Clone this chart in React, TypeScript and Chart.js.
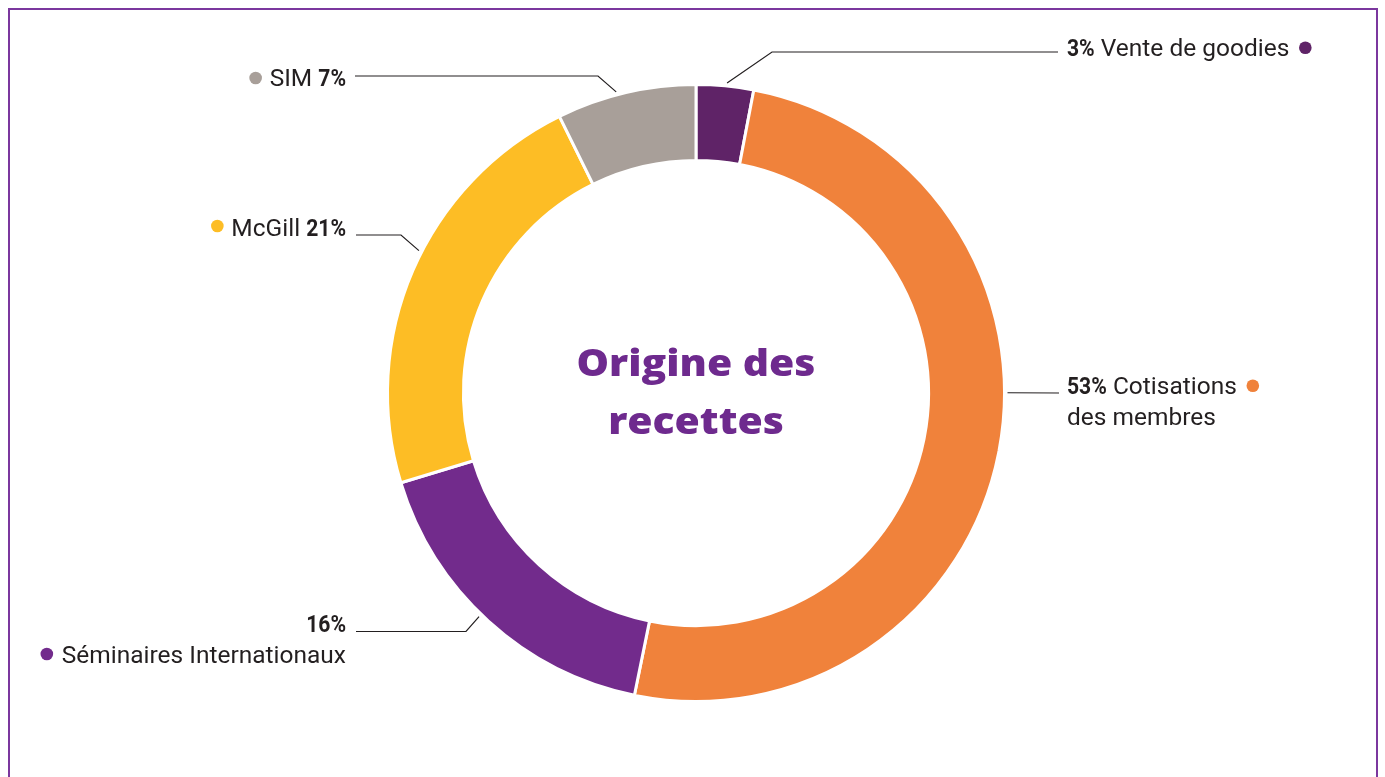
import React, { useEffect, useRef } from "react";
import { Chart, registerables } from "chart.js";

Chart.register(...registerables);

// ---- Data ----
const categories = ["Vente de goodies", "Cotisations des membres", "Séminaires Internationaux", "McGill", "SIM"];
// slice sizes as drawn in the reference (ring share, %)
const shares = [3, 50.2, 17.1, 22.4, 7.3];
// percentages printed on the labels
const percentLabels = ["3%", "53%", "16%", "21%", "7%"];
const sliceColors = ["#5f2367", "#f0823b", "#722b8c", "#fdbd25", "#a89f99"];
const centerTitle = ["Origine des", "recettes"];

// ---- Callout layout (annotation positions, page px) ----
type Run = { t: string; bold?: boolean };
type Line = { x: number; y: number; align: "left" | "right"; runs: Run[]; dot?: "before" | "after"; dotGap?: number; dotDy?: number };
type Callout = { frac: number; rOff: number; elbow: [number, number] | null; end: [number, number]; lines: Line[] };

const callouts: Callout[] = [
  {
    frac: 0.53, rOff: 3, elbow: [772, 52], end: [1058, 52],
    lines: [{ x: 1067, y: 56, align: "left", runs: [{ t: percentLabels[0], bold: true }, { t: " Vente de goodies" }], dot: "after", dotGap: 16, dotDy: -8.3 }],
  },
  {
    frac: 0.438, rOff: 3, elbow: null, end: [1059, 393],
    lines: [
      { x: 1067, y: 394, align: "left", runs: [{ t: percentLabels[1], bold: true }, { t: " Cotisations" }], dot: "after", dotGap: 16, dotDy: -8.3 },
      { x: 1067, y: 425, align: "left", runs: [{ t: "des membres" }] },
    ],
  },
  {
    frac: 0.53, rOff: 3, elbow: [466, 631.5], end: [356, 631.5],
    lines: [
      { x: 346, y: 632, align: "right", runs: [{ t: percentLabels[2], bold: true }] },
      { x: 346, y: 663, align: "right", runs: [{ t: "Séminaires Internationaux" }], dot: "before", dotGap: 15, dotDy: -9 },
    ],
  },
  {
    frac: 0.547, rOff: 3, elbow: [401, 235], end: [356, 235],
    lines: [{ x: 346, y: 235.5, align: "right", runs: [{ t: "McGill " }, { t: percentLabels[3], bold: true }], dot: "before", dotGap: 14, dotDy: -9.5 }],
  },
  {
    frac: 0.435, rOff: 3, elbow: [598, 76], end: [355, 76],
    lines: [{ x: 346, y: 86, align: "right", runs: [{ t: "SIM " }, { t: percentLabels[4], bold: true }], dot: "before", dotGap: 14, dotDy: -8 }],
  },
];

const TEXT_COLOR = "#231f20";
const TITLE_COLOR = "#6e2a8e";
const LABEL_FONT = "Roboto, 'Liberation Sans', sans-serif";
const LABEL_SIZE = 24;
const BOLD_SCALE = 0.88;
const REG_SCALE = 1.02;
const TITLE_WIDTH = 239;

const calloutPlugin = {
  id: "callouts",
  afterDraw(chart: any) {
    const ctx: any = chart.ctx;
    const meta = chart.getDatasetMeta(0);
    ctx.save();
    // center title
    const arc0 = meta.data[0];
    const cx = arc0.x, cy = arc0.y;
    ctx.fillStyle = TITLE_COLOR;
    ctx.textAlign = "center";
    ctx.textBaseline = "alphabetic";
    ctx.font = "800 37px 'Open Sans', sans-serif";
    const w0 = ctx.measureText(centerTitle[0]).width;
    const sx = TITLE_WIDTH / w0;
    ctx.save();
    ctx.translate(cx, cy);
    ctx.scale(sx, 1);
    ctx.fillText(centerTitle[0], 0, -17);
    ctx.fillText(centerTitle[1], 0, 41);
    ctx.restore();

    callouts.forEach((c, i) => {
      const arc = meta.data[i];
      if (!arc) return;
      const a = arc.startAngle + (arc.endAngle - arc.startAngle) * c.frac;
      const r = arc.outerRadius + c.rOff;
      const ax = arc.x + Math.cos(a) * r;
      const ay = arc.y + Math.sin(a) * r;
      ctx.strokeStyle = TEXT_COLOR;
      ctx.lineWidth = 1.2;
      ctx.beginPath();
      ctx.moveTo(ax, ay);
      if (c.elbow) ctx.lineTo(c.elbow[0], c.elbow[1]);
      ctx.lineTo(c.end[0], c.end[1]);
      ctx.stroke();

      c.lines.forEach((ln) => {
        const widths = ln.runs.map((run) => {
          ctx.font = `${run.bold ? 700 : 400} ${LABEL_SIZE}px ${LABEL_FONT}`;
          return ctx.measureText(run.t).width * (run.bold ? BOLD_SCALE : REG_SCALE);
        });
        const total = widths.reduce((s: number, w: number) => s + w, 0);
        let x = ln.align === "left" ? ln.x : ln.x - total;
        const startX = x;
        ctx.textAlign = "left";
        ctx.fillStyle = TEXT_COLOR;
        ln.runs.forEach((run, k) => {
          ctx.font = `${run.bold ? 700 : 400} ${LABEL_SIZE}px ${LABEL_FONT}`;
          ctx.save();
          ctx.translate(x, ln.y);
          ctx.scale(run.bold ? BOLD_SCALE : REG_SCALE, 1);
          ctx.fillText(run.t, 0, 0);
          ctx.restore();
          x += widths[k];
        });
        if (ln.dot) {
          const dx = ln.dot === "before" ? startX - (ln.dotGap || 14) : startX + total + (ln.dotGap || 14);
          ctx.fillStyle = sliceColors[i];
          ctx.beginPath();
          ctx.arc(dx, ln.y + (ln.dotDy || -8), 6.3, 0, Math.PI * 2);
          ctx.fill();
        }
      });
    });
    ctx.restore();
  },
};

export default function App() {
  const ref = useRef<HTMLCanvasElement>(null);
  useEffect(() => {
    if (!ref.current) return;
    const chart = new Chart(ref.current, {
      type: "doughnut",
      data: {
        labels: categories,
        datasets: [
          {
            data: shares,
            backgroundColor: sliceColors,
            borderColor: "#ffffff",
            borderWidth: 3,
            hoverOffset: 0,
          },
        ],
      },
      options: {
        responsive: false,
        animation: false,
        radius: 308.5,
        cutout: "75.4%",
        layout: { padding: { top: 9, bottom: 0, left: 7, right: 0 } },
        plugins: { legend: { display: false }, tooltip: { enabled: false } },
        events: [],
      },
      plugins: [calloutPlugin],
    });
    return () => chart.destroy();
  }, []);

  return (
    <div>
      <canvas ref={ref} width={1385} height={777} style={{ position: "fixed", left: 0, top: 0, width: 1385, height: 777, display: "block" }} />
      <div
        style={{
          position: "fixed",
          left: 8,
          top: 8,
          width: 1370,
          height: 769,
          boxSizing: "border-box",
          border: "2px solid #7b379e",
          borderBottom: "none",
          pointerEvents: "none",
        }}
      />
    </div>
  );
}
